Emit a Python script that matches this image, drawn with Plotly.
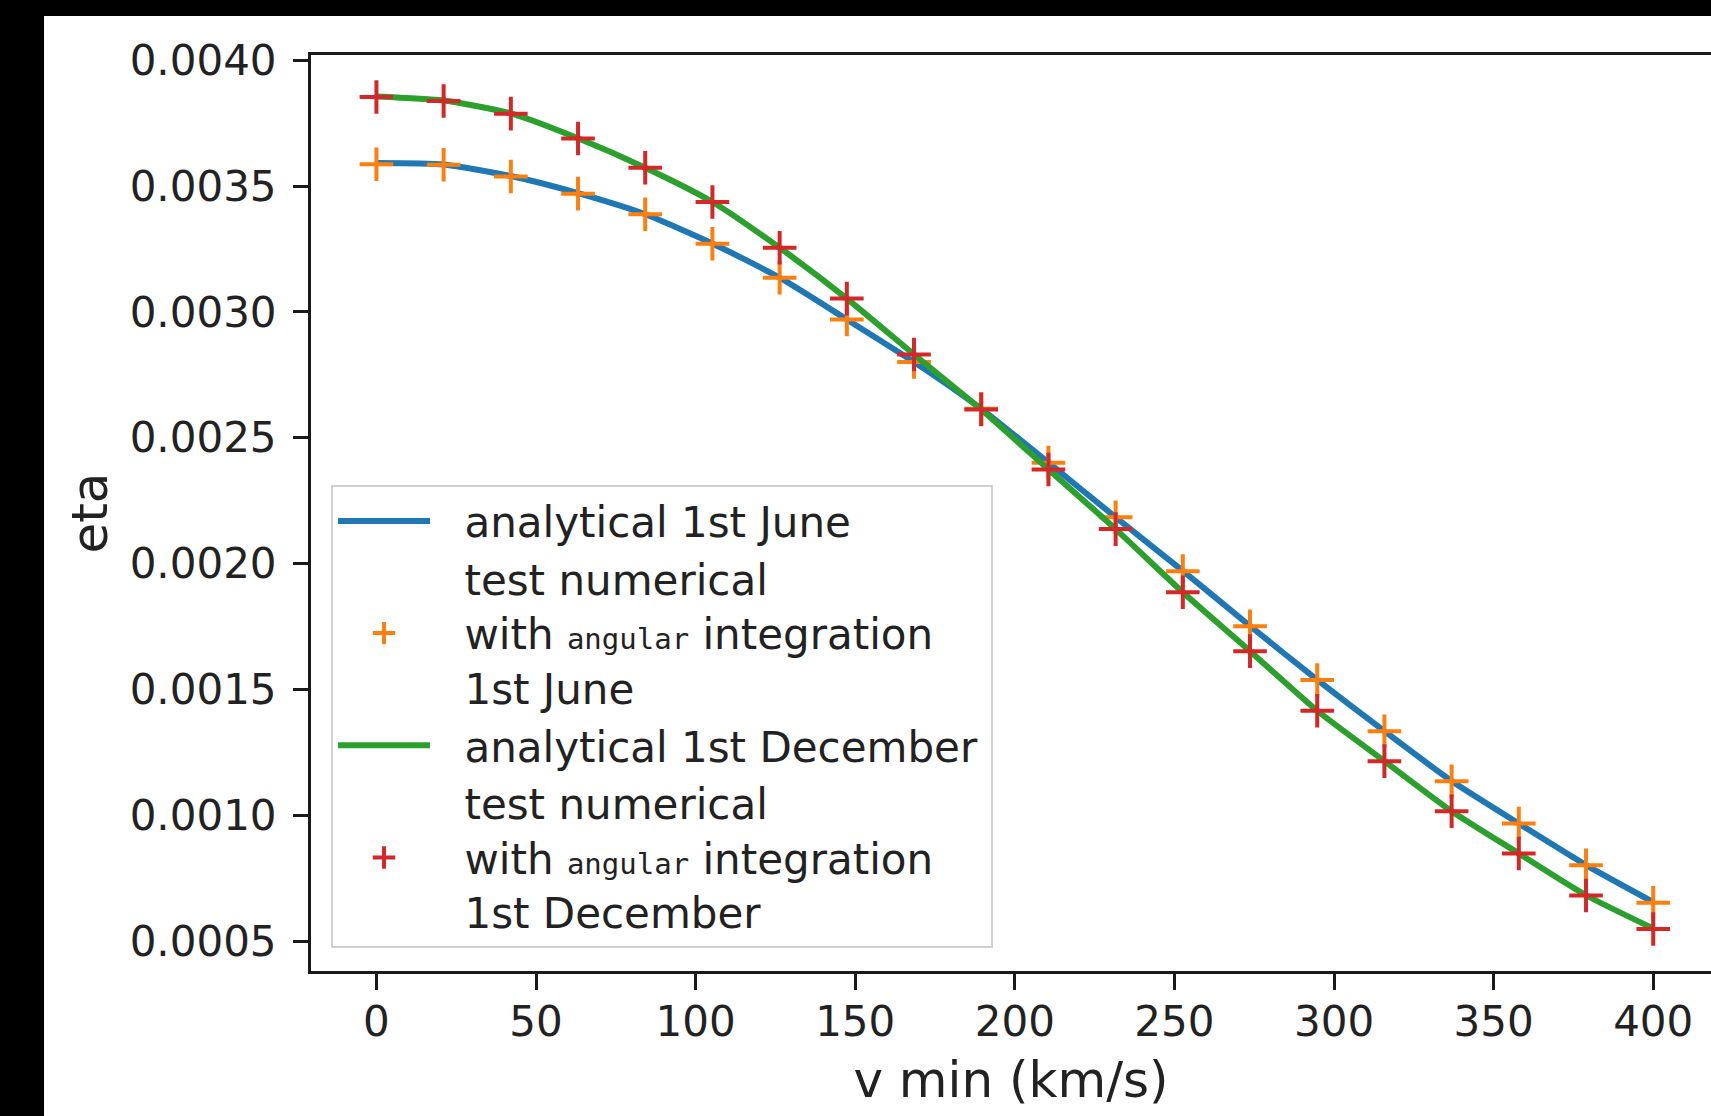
import plotly.graph_objects as go

# ---- data ----
v_min = [0.0, 21.05, 42.11, 63.16, 84.21, 105.26, 126.32, 147.37, 168.42, 189.47,
         210.53, 231.58, 252.63, 273.68, 294.74, 315.79, 336.84, 357.89, 378.95, 400.0]

eta_june_analytical = [0.003592, 0.003586, 0.003540, 0.003472, 0.003388, 0.003272, 0.003136,
                       0.002970, 0.002801, 0.002615, 0.002401, 0.002184, 0.001971, 0.001752,
                       0.001538, 0.001334, 0.001136, 0.000967, 0.000802, 0.000655]
eta_june_numerical = [0.003587, 0.003585, 0.003538, 0.003470, 0.003388, 0.003271, 0.003136,
                      0.002970, 0.002801, 0.002615, 0.002401, 0.002184, 0.001970, 0.001751,
                      0.001537, 0.001334, 0.001135, 0.000967, 0.000801, 0.000652]

eta_dec_analytical = [0.003856, 0.003840, 0.003789, 0.003690, 0.003573, 0.003437, 0.003255,
                      0.003053, 0.002831, 0.002612, 0.002374, 0.002137, 0.001886, 0.001652,
                      0.001415, 0.001215, 0.001016, 0.000848, 0.000682, 0.000550]
eta_dec_numerical = [0.003854, 0.003838, 0.003788, 0.003689, 0.003573, 0.003437, 0.003255,
                     0.003053, 0.002831, 0.002612, 0.002374, 0.002137, 0.001886, 0.001652,
                     0.001415, 0.001215, 0.001016, 0.000848, 0.000681, 0.000548]

x_ticks = [0, 50, 100, 150, 200, 250, 300, 350, 400]
y_ticks = [0.0005, 0.0010, 0.0015, 0.0020, 0.0025, 0.0030, 0.0035, 0.0040]
y_tick_labels = ["0.0005", "0.0010", "0.0015", "0.0020", "0.0025", "0.0030", "0.0035", "0.0040"]

PAD = "\u2002\u2009"  # gap between legend symbol and text
MONO = "<span style=\"font-family:DejaVu Sans Mono;font-size:29px\">angular</span>"
names = [
    PAD + "analytical 1st June",
    PAD + "test numerical<br>" + PAD + "with " + MONO + " integration<br>" + PAD + "1st June",
    PAD + "analytical 1st December\u2009",
    PAD + "test numerical<br>" + PAD + "with " + MONO + " integration<br>" + PAD + "1st December",
]

BLUE, ORANGE, GREEN, RED = "#1f77b4", "#ff7f0e", "#2ca02c", "#d62728"
AX = "#1a1a1a"

fig = go.Figure()
fig.add_trace(go.Scatter(x=v_min, y=eta_june_analytical, mode="lines", name=names[0],
                         line=dict(color=BLUE, width=6, shape="spline", smoothing=0.6)))
fig.add_trace(go.Scatter(x=v_min, y=eta_june_numerical, mode="markers", name=names[1],
                         marker=dict(symbol="cross-thin", size=24, color=ORANGE,
                                     line=dict(width=4, color=ORANGE))))
fig.add_trace(go.Scatter(x=v_min, y=eta_dec_analytical, mode="lines", name=names[2],
                         line=dict(color=GREEN, width=6, shape="spline", smoothing=0.6)))
fig.add_trace(go.Scatter(x=v_min, y=eta_dec_numerical, mode="markers", name=names[3],
                         marker=dict(symbol="cross-thin", size=24, color=RED,
                                     line=dict(width=4, color=RED))))

fig.update_layout(
    width=1711, height=1116, autosize=False,
    margin=dict(l=311, r=0, t=55, b=145, pad=0),
    paper_bgcolor="white", plot_bgcolor="white",
    font=dict(family="DejaVu Sans", size=42, color="#222222"),
    showlegend=True,
    legend=dict(x=0.0143, y=0.025, xanchor="left", yanchor="bottom",
                bgcolor="rgba(255,255,255,0.8)", bordercolor="#d0d0d0", borderwidth=2,
                font=dict(size=42, color="#222222"), itemwidth=92, tracegroupgap=0,
                valign="middle"),
    shapes=[
        dict(type="rect", xref="paper", yref="paper", x0=-0.24, x1=-0.1907, y0=-0.2, y1=1.08,
             fillcolor="black", line=dict(width=0), layer="above"),
        dict(type="rect", xref="paper", yref="paper", x0=-0.24, x1=1.05, y0=1.0426, y1=1.08,
             fillcolor="black", line=dict(width=0), layer="above"),
    ],
)

fig.update_xaxes(
    range=[-20.5, 418.1], tickvals=x_ticks, ticktext=[str(t) for t in x_ticks],
    ticks="outside", ticklen=16, tickwidth=3, tickcolor=AX,
    showline=True, linewidth=3, linecolor=AX, mirror=True,
    showgrid=False, zeroline=False, ticklabelstandoff=-4,
    title=dict(text="v min (km/s)", standoff=17),
)
fig.update_yaxes(
    range=[0.000381, 0.004021], tickvals=y_ticks, ticktext=y_tick_labels,
    ticks="outside", ticklen=15, tickwidth=3, tickcolor=AX,
    showline=True, linewidth=3, linecolor=AX, mirror=False,
    showgrid=False, zeroline=False, ticklabelstandoff=8,
    title=dict(text="eta", standoff=7),
)

fig.write_html("out.html")
